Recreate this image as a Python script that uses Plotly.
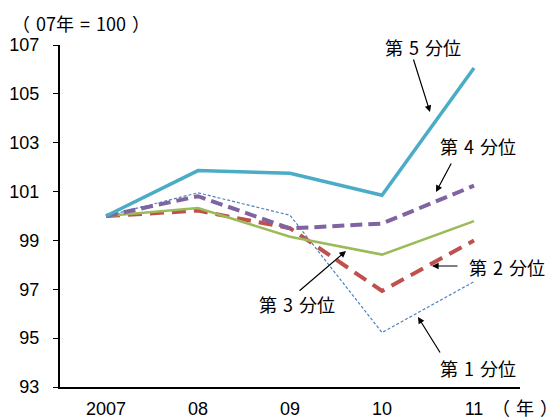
import plotly.graph_objects as go

years = ["2007", "08", "09", "10", "11"]
q5 = [100.0, 101.86, 101.75, 100.85, 106.06]
q4 = [100.0, 100.81, 99.49, 99.69, 101.24]
q3 = [100.0, 100.33, 99.15, 98.42, 99.79]
q2 = [100.0, 100.22, 99.50, 96.93, 99.0]
q1 = [100.0, 100.95, 100.03, 95.23, 97.31]
yticks = [93, 95, 97, 99, 101, 103, 105, 107]

xs = list(range(len(years)))
fig = go.Figure()
fig.add_trace(go.Scatter(x=xs, y=q1, mode="lines", line=dict(color="#4F81BD", width=1.2, dash="3px,2px")))
fig.add_trace(go.Scatter(x=xs, y=q2, mode="lines", line=dict(color="#C0504D", width=4, dash="14px,8px")))
fig.add_trace(go.Scatter(x=xs, y=q3, mode="lines", line=dict(color="#9BBB59", width=2.5)))
fig.add_trace(go.Scatter(x=xs, y=q4, mode="lines", line=dict(color="#8064A2", width=4, dash="12px,6px")))
fig.add_trace(go.Scatter(x=xs, y=q5, mode="lines", line=dict(color="#4BACC6", width=3.5)))

OFF = 8  # page body margin
W, H = 560 - OFF, 419 - OFF
L, T = 60 - OFF, 45 - OFF
R = W - (520 - OFF)
B = H - (387 - OFF)
pw, ph = W - L - R, H - T - B

def px2x(px):
    return (px - OFF - L) / (pw / 5) - 0.5

def py2y(py):
    return 107 - (py - OFF - T) / (ph / 14)

font_cjk = "Noto Sans CJK JP"
sp = "\u2004"
labels = [
    ("第" + sp + "5" + sp + "分位", 423, 47, (413, 58), (430, 112)),
    ("第" + sp + "4" + sp + "分位", 478, 146, (452, 162), (436, 192)),
    ("第" + sp + "3" + sp + "分位", 297, 304, (298, 292), (346, 251)),
    ("第" + sp + "2" + sp + "分位", 507, 267, (459, 266), (432, 266)),
    ("第" + sp + "1" + sp + "分位", 478, 368, (441, 354), (418, 317)),
]
for text, tx, ty, tail, head in labels:
    fig.add_annotation(x=px2x(tx), y=py2y(ty), text=text, showarrow=False,
                       font=dict(family=font_cjk, size=18, color="black"))
    fig.add_annotation(x=px2x(head[0]), y=py2y(head[1]), ax=px2x(tail[0]), ay=py2y(tail[1]),
                       axref="x", ayref="y", xref="x", yref="y", text="", showarrow=True,
                       arrowhead=2, arrowsize=1.1, arrowwidth=1.2, arrowcolor="black")

fig.add_annotation(x=0, y=1, xref="paper", yref="paper", xshift=-50, yshift=T,
                   xanchor="left", yanchor="top",
                   text="（" + sp + "07年" + sp + "=" + sp + "100" + sp + "）", showarrow=False,
                   font=dict(family=font_cjk, size=18, color="black"))
fig.add_annotation(x=1, y=0, xref="paper", yref="paper", xshift=40, yshift=-20,
                   xanchor="right", yanchor="middle",
                   text="（" + sp + "年" + sp + "）", showarrow=False,
                   font=dict(family=font_cjk, size=18, color="black"))

fig.update_layout(
    width=W, height=H, margin=dict(l=L, r=R, t=T, b=B, autoexpand=False),
    paper_bgcolor="white", plot_bgcolor="white", showlegend=False,
    font=dict(family="Liberation Sans", size=18, color="black"),
)
fig.update_xaxes(range=[-0.5, 4.5], tickvals=xs, ticktext=years, showgrid=False, zeroline=False,
                 showline=True, linecolor="black", linewidth=2, ticks="", fixedrange=True,
                 automargin=False, ticklabelstandoff=4)
fig.update_yaxes(range=[93, 107], tickvals=yticks, showgrid=False, zeroline=False,
                 showline=True, linecolor="black", linewidth=2, ticks="outside", ticklen=5,
                 tickcolor="black", tickwidth=1, automargin=False, ticklabelstandoff=10)
fig.write_html("out.html")
